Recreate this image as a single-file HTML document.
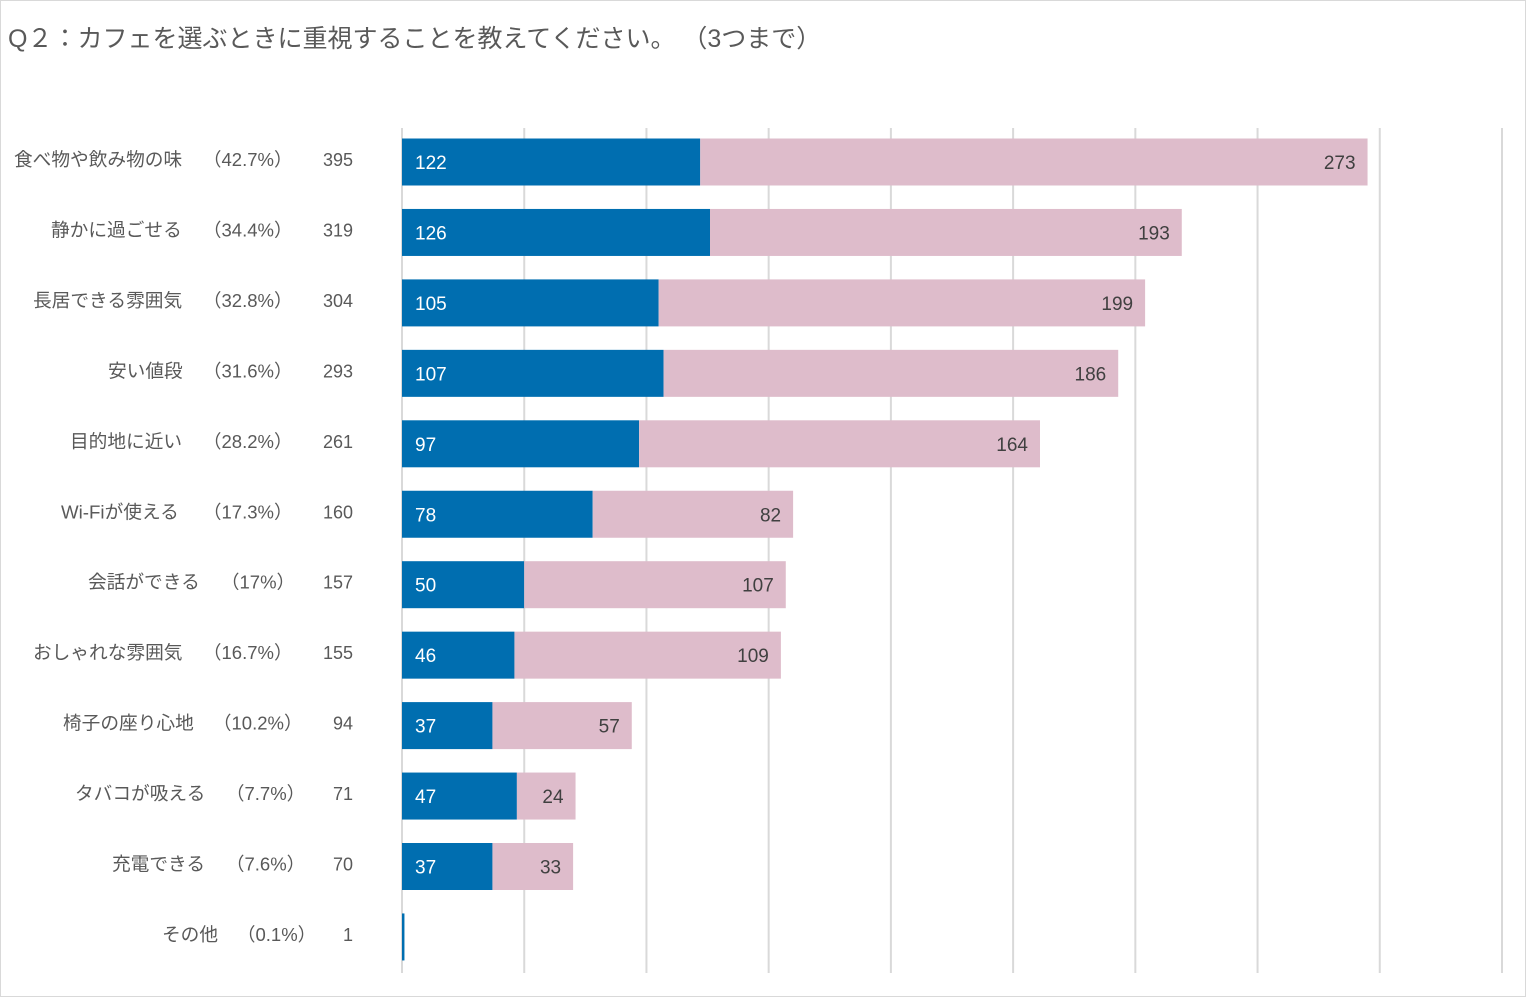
<!DOCTYPE html>
<html><head><meta charset="utf-8">
<style>
html,body{margin:0;padding:0;background:#fff;}
#wrap{position:relative;width:1526px;height:997px;overflow:hidden;font-family:"Liberation Sans","Noto Sans CJK JP",sans-serif;}
#frame{position:absolute;left:0;top:0;width:1524px;height:995px;border:1px solid #d9d9d9;}
</style></head>
<body>
<div id="wrap">
<div id="frame"></div>
<svg id="chart" width="1526" height="997" style="position:absolute;left:0;top:0">
<text x="8" y="47" font-size="25" fill="#595959" font-family="Liberation Sans, Noto Sans CJK JP, sans-serif">Q２：カフェを選ぶときに重視することを教えてください。 （3つまで）</text>
</svg>
</div>
<script>
const categories=["食べ物や飲み物の味","静かに過ごせる","長居できる雰囲気","安い値段","目的地に近い","Wi-Fiが使える","会話ができる","おしゃれな雰囲気","椅子の座り心地","タバコが吸える","充電できる","その他"];
const percents=["（42.7%）","（34.4%）","（32.8%）","（31.6%）","（28.2%）","（17.3%）","（17%）","（16.7%）","（10.2%）","（7.7%）","（7.6%）","（0.1%）"];
const totals=[395,319,304,293,261,160,157,155,94,71,70,1];
const series1=[122,126,105,107,97,78,50,46,37,47,37,1];
const series2=[273,193,199,186,164,82,107,109,57,24,33,0];
const xTicks=[0,50,100,150,200,250,300,350,400,450];
const labelX=[14,51,33,108,70,61,88,33,63,75,112,162];
const pctX=[203,203,203,203,203,203,221,203,213,226,226,237];

const svg=document.getElementById('chart');
const NS='http://www.w3.org/2000/svg';
const x0=402,pxPer=(1502-402)/450;
const xs=v=>x0+v*pxPer;
const yc=i=>162+i*70.45;
const BH=47;
function mk(t,a){const e=document.createElementNS(NS,t);for(const k in a)e.setAttribute(k,a[k]);svg.appendChild(e);return e;}
const FF="Liberation Sans, Noto Sans CJK JP, sans-serif";
xTicks.forEach(t=>{
 const l=mk('line',{x1:xs(t),x2:xs(t),y1:128,y2:973,stroke:'#d9d9d9','stroke-width':2});
 
 
});
categories.forEach((c,i)=>{
 const y=yc(i);
 const a=mk('rect',{x:x0,y:y-BH/2,width:Math.max(series1[i]*pxPer,2),height:BH,fill:'#006EB0'});
 
 
 if(series2[i]>0){
  const b=mk('rect',{x:xs(series1[i]),y:y-BH/2,width:series2[i]*pxPer,height:BH,fill:'#DEBCCB'});
  
  
 }
 if(series1[i]>1){
  const t=mk('text',{x:x0+13,y:y+7,'font-size':19,fill:'#fff','font-family':FF});
  t.textContent=series1[i];
  
  
 }
 if(series2[i]>0){
  const t=mk('text',{x:xs(series1[i]+series2[i])-12,y:y+7,'font-size':19,fill:'#404040','text-anchor':'end','font-family':FF});
  t.textContent=series2[i];
  
  
 }
 const l=mk('text',{x:labelX[i],y:y+4,'font-size':18.7,fill:'#595959','font-family':FF});
 l.textContent=c;
 
 
 const p=mk('text',{x:pctX[i],y:y+4,'font-size':18.5,fill:'#595959','font-family':FF});
 p.textContent=percents[i];
 
 
 const tt=mk('text',{x:353,y:y+4,'font-size':18,fill:'#595959','text-anchor':'end','font-family':FF});
 tt.textContent=totals[i];
 
 
});
</script>
</body></html>
